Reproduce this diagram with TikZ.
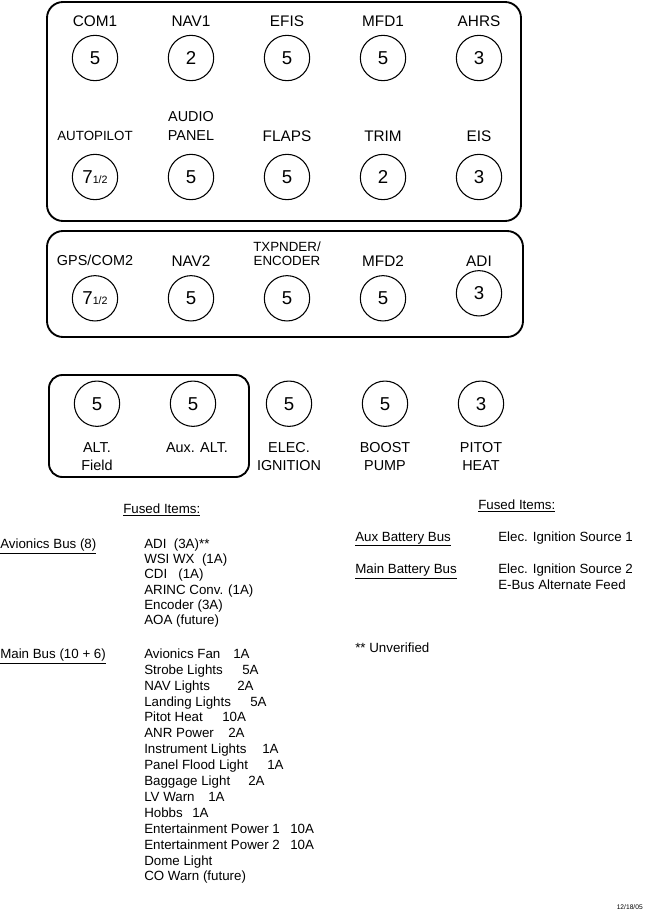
\documentclass[tikz,border=0pt]{standalone}
\usepackage{fontspec}
\setmainfont{Liberation Sans}
\newcommand\fhalf{{\fontsize{8}{8}\selectfont 1/2}}
\begin{document}
\begin{tikzpicture}[x=0.75pt,y=-0.75pt,
  fuse/.style={circle,draw,line width=0.8pt,minimum size=34pt,inner sep=0pt,text depth=0pt,font=\fontsize{14}{14}\selectfont},
  lbl/.style={anchor=base,inner sep=0pt,font=\fontsize{11.5}{14}\selectfont},
  slbl/.style={lbl,font=\fontsize{10}{12}\selectfont},
  blbl/.style={lbl,font=\fontsize{10.8}{13}\selectfont},
  panel/.style={draw,line width=1.4pt,rounded corners=12pt},
  txt/.style={anchor=base west,inner sep=0pt,font=\fontsize{10}{12}\selectfont},
]
\useasboundingbox (0,0) rectangle (650,914);

% ---- top panel
\draw[panel] (47,2) rectangle (521,221);
\node[lbl] (lcom1) at (95,26.7) {COM1};
\node[lbl] (lnav1) at (191,26.7) {NAV1};
\node[lbl] (lefis) at (287,26.7) {EFIS};
\node[lbl] (lmfd1) at (383,26.7) {MFD1};
\node[lbl] (lahrs) at (479,26.7) {AHRS};
\node[fuse] (fcom1) at (95,58) {5};
\node[fuse] (fnav1) at (191,58) {2};
\node[fuse] (fefis) at (287,58) {5};
\node[fuse] (fmfd1) at (383,58) {5};
\node[fuse] (fahrs) at (479,58) {3};

\node[slbl] (lap) at (95,140) {AUTOPILOT};
\node[blbl] (laud1) at (191,121) {AUDIO};
\node[blbl] (laud2) at (191,140) {PANEL};
\node[lbl] (lflaps) at (287,141) {FLAPS};
\node[lbl] (ltrim) at (383,141) {TRIM};
\node[lbl] (leis) at (479,141) {EIS};
\node[fuse] (fap) at (95,177) {7\fhalf};
\node[fuse] (faud) at (191,177) {5};
\node[fuse] (fflaps) at (287,177) {5};
\node[fuse] (ftrim) at (383,177) {2};
\node[fuse] (feis) at (479,177) {3};

% ---- second panel
\draw[panel] (47,231) rectangle (523,337);
\node[blbl] (lgps) at (95,265.7) {GPS/COM2};
\node[lbl] (lnav2) at (191,266.7) {NAV2};
\node[slbl] (ltx1) at (287,251) {TXPNDER/};
\node[slbl] (ltx2) at (287,265.7) {ENCODER};
\node[lbl] (lmfd2) at (383,266.7) {MFD2};
\node[lbl] (ladi) at (479,266) {ADI};
\node[fuse] (fgps) at (95,298.3) {7\fhalf};
\node[fuse] (fnav2) at (191,298.3) {5};
\node[fuse] (ftx) at (287,298.3) {5};
\node[fuse] (fmfd2) at (383,298.3) {5};
\node[fuse] (fadi) at (479,293.3) {3};

% ---- bottom row
\draw[panel,rounded corners=10pt] (49,375) rectangle (249,477);
\node[fuse] (falt) at (97,403.7) {5};
\node[fuse] (faux) at (193,403.7) {5};
\node[fuse] (felec) at (289,403.7) {5};
\node[fuse] (fboost) at (385,403.7) {5};
\node[fuse] (fpitot) at (481,403.7) {3};
\node[blbl] (lalt1) at (97,452.7) {ALT.};
\node[blbl] (lalt2) at (97,470) {Field};
\node[blbl] (laux) at (197,452.7) {Aux. ALT.};
\node[blbl] (lel1) at (289,452.7) {ELEC.};
\node[blbl] (lel2) at (289,470) {IGNITION};
\node[blbl] (lbo1) at (385,452.7) {BOOST};
\node[blbl] (lbo2) at (385,470) {PUMP};
\node[blbl] (lpi1) at (481,452.7) {PITOT};
\node[blbl] (lpi2) at (481,470) {HEAT};

% ---- fused items, left
\node[txt] (fusl) at (123,513.3) {\underline{Fused Items:}};
\node[txt] (avbus) at (0,548.3) {\underline{Avionics Bus (8)}};
\foreach \t [count=\k from 0] in {{ADI\ \ (3A)**},{WSI WX\ \ (1A)},{CDI\ \ \ (1A)},{ARINC Conv. (1A)},{Encoder (3A)},{AOA (future)}}
  \node[txt] (av\k) at (144,548.3+15.3*\k) {\t};

\node[txt] (mainbus) at (0,658.3) {\underline{Main Bus (10 + 6)}};
\foreach \t/\a/\ax [count=\k from 0] in {Avionics Fan/1A/233, Strobe Lights/5A/242, NAV Lights/2A/237, Landing Lights/5A/250, Pitot Heat/10A/222, ANR Power/2A/228, Instrument Lights/1A/262, Panel Flood Light/1A/267, Baggage Light/2A/248, LV Warn/1A/208, Hobbs/1A/192, Entertainment Power 1/10A/290, Entertainment Power 2/10A/290}
  {\node[txt] (mb\k) at (144,658.3+15.9*\k) {\t};
   \node[txt] (ma\k) at (\ax,658.3+15.9*\k) {\a};}
\node[txt] (mb13) at (144,658.3+15.9*13) {Dome Light};
\node[txt] (mb14) at (144,658.3+15.9*14) {CO Warn (future)};

% ---- fused items, right
\node[txt] (fusr) at (478,509.3) {\underline{Fused Items:}};
\node[txt] (auxbb) at (355,541) {\underline{Aux Battery Bus}};
\node[txt] (src1) at (498,541) {Elec. Ignition Source 1};
\node[txt] (mainbb) at (355,573.3) {\underline{Main Battery Bus}};
\node[txt] (src2) at (498,573.3) {Elec. Ignition Source 2};
\node[txt] (ebus) at (498,589.3) {E-Bus Alternate Feed};
\node[txt] (unver) at (355,652.7) {** Unverified};

\node[anchor=base east,inner sep=0pt,font=\fontsize{5}{6}\selectfont] (date) at (643,909) {12/18/05};
\end{tikzpicture}
\end{document}
